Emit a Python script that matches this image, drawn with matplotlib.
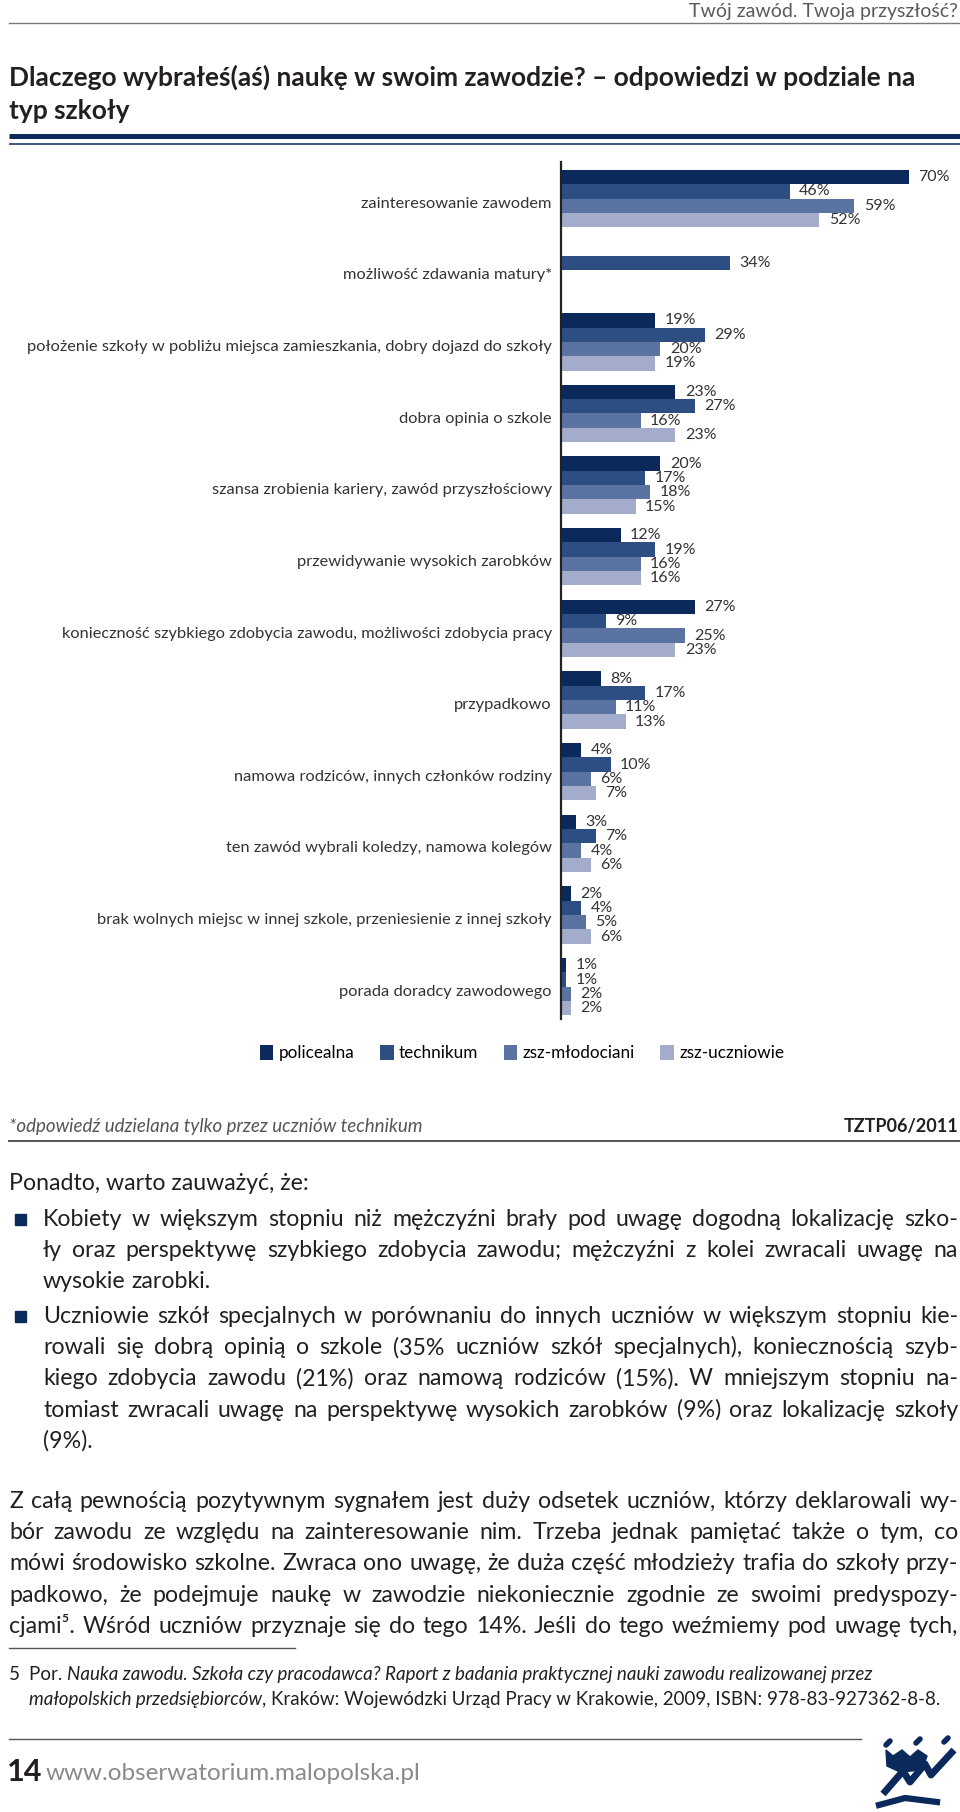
import numpy as np
import matplotlib.pyplot as plt
from matplotlib.patches import Patch, Rectangle

plt.rcParams['font.family'] = ['Lato', 'DejaVu Sans']

categories = [
    "zainteresowanie zawodem",
    "możliwość zdawania matury*",
    "położenie szkoły w pobliżu miejsca zamieszkania, dobry dojazd do szkoły",
    "dobra opinia o szkole",
    "szansa zrobienia kariery, zawód przyszłościowy",
    "przewidywanie wysokich zarobków",
    "konieczność szybkiego zdobycia zawodu, możliwości zdobycia pracy",
    "przypadkowo",
    "namowa rodziców, innych członków rodziny",
    "ten zawód wybrali koledzy, namowa kolegów",
    "brak wolnych miejsc w innej szkole, przeniesienie z innej szkoły",
    "porada doradcy zawodowego",
]
policealna = [70, None, 19, 23, 20, 12, 27, 8, 4, 3, 2, 1]
technikum = [46, 34, 29, 27, 17, 19, 9, 17, 10, 7, 4, 1]
mlodociani = [59, None, 20, 16, 18, 16, 25, 11, 6, 4, 5, 2]
uczniowie = [52, None, 19, 23, 15, 16, 23, 13, 7, 6, 6, 2]
series = [policealna, technikum, mlodociani, uczniowie]
series_names = ["policealna", "technikum", "zsz-młodociani", "zsz-uczniowie"]
colors = ["#0b2a5b", "#2c4e83", "#5b73a1", "#a3adcb"]

bullet1 = [
    "Kobiety w większym stopniu niż mężczyźni brały pod uwagę dogodną lokalizację szko-",
    "ły oraz perspektywę szybkiego zdobycia zawodu; mężczyźni z kolei zwracali uwagę na",
    "wysokie zarobki.",
]
bullet2 = [
    "Uczniowie szkół specjalnych w porównaniu do innych uczniów w większym stopniu kie-",
    "rowali się dobrą opinią o szkole (35% uczniów szkół specjalnych), koniecznością szyb-",
    "kiego zdobycia zawodu (21%) oraz namową rodziców (15%). W mniejszym stopniu na-",
    "tomiast zwracali uwagę na perspektywę wysokich zarobków (9%) oraz lokalizację szkoły",
    "(9%).",
]
paragraph = [
    "Z całą pewnością pozytywnym sygnałem jest duży odsetek uczniów, którzy deklarowali wy-",
    "bór zawodu ze względu na zainteresowanie nim. Trzeba jednak pamiętać także o tym, co",
    "mówi środowisko szkolne. Zwraca ono uwagę, że duża część młodzieży trafia do szkoły przy-",
    "padkowo, że podejmuje naukę w zawodzie niekoniecznie zgodnie ze swoimi predyspozy-",
    "cjami⁵. Wśród uczniów przyznaje się do tego 14%. Jeśli do tego weźmiemy pod uwagę tych,",
]

W, H = 960, 1812
fig = plt.figure(figsize=(9.6, 18.12), dpi=100)
page = fig.add_axes([0, 0, 1, 1])
page.set_xlim(0, W)
page.set_ylim(H, 0)
page.axis('off')
r = fig.canvas.get_renderer()
ink = '#231f20'
navy = '#0b2a5b'


def width(t):
    return t.get_window_extent(r).width


def justify(x0, x1, y, line, last=False, **kw):
    # y is the baseline
    words = line.split(' ')
    texts = [page.text(x0, y, w, va='baseline', ha='left', **kw) for w in words]
    ws = [width(t) for t in texts]
    gap = width(page.text(0, 0, 'a a', alpha=0, **kw)) - width(page.text(0, 0, 'aa', alpha=0, **kw))
    if not last and len(words) > 1:
        gap = (x1 - x0 - sum(ws)) / (len(words) - 1)
    x = x0
    for t, w in zip(texts, ws):
        t.set_x(x)
        x += w + gap


def segments(x, y, parts, **kw):
    for txt, style in parts:
        t = page.text(x, y, txt, va='baseline', ha='left', fontstyle=style, **kw)
        x += width(t)


# header
page.text(958, 17, "Twój zawód. Twoja przyszłość?", ha='right', va='baseline',
          fontsize=14, color='#5a5a5c')
page.plot([9, 960], [23, 23], color='#7a7a7a', lw=1)
page.text(9, 86, "Dlaczego wybrałeś(aś) naukę w swoim zawodzie? – odpowiedzi w podziale na",
          fontsize=19, fontweight='bold', color=ink, va='baseline')
page.text(9, 119, "typ szkoły", fontsize=19, fontweight='bold', color=ink, va='baseline')
page.plot([9, 960], [136, 136], color=navy, lw=3.6, solid_capstyle='butt')
page.plot([9, 960], [143.5, 143.5], color=navy, lw=1.1, solid_capstyle='butt')

# chart
ax = fig.add_axes([561 / W, 1 - 1019 / H, 399 / W, 857 / H])
ax.set_xlim(0, 399 / 4.97)
ax.set_ylim(857 / 14.33, 0)
start = 0.55
for j, (vals, c) in enumerate(zip(series, colors)):
    for i, v in enumerate(vals):
        if v is None:
            continue
        y = start + 5 * i + j + 0.5
        ax.barh(y, v, height=1.0, color=c)
        ax.text(v + 1.9, y, f"{v}%", va='center', ha='left', fontsize=11.5, color='#333333')
ax.set_yticks([start + 5 * i + 2.25 for i in range(len(categories))])
ax.set_yticklabels(categories, fontsize=11.8, color='#333333')
ax.tick_params(axis='y', length=0, pad=6.5)
ax.set_xticks([])
for s in ['top', 'right', 'bottom']:
    ax.spines[s].set_visible(False)
ax.spines['left'].set_linewidth(1.6)
ax.spines['left'].set_color('#222222')
ax.patch.set_alpha(0)

handles = [Patch(facecolor=c, label=n) for c, n in zip(colors, series_names)]
ax.legend(handles=handles, loc='center', bbox_to_anchor=(522 / W, 1 - 1053 / H),
          bbox_transform=fig.transFigure, ncol=4, frameon=False, fontsize=12.3,
          handlelength=0.8, handleheight=1.0, handletextpad=0.3, columnspacing=1.5)

# source line
page.text(9, 1132, "*odpowiedź udzielana tylko przez uczniów technikum", fontsize=13.5,
          fontstyle='italic', color='#555555', va='baseline')
page.text(958, 1132, "TZTP06/2011", fontsize=13, fontweight='bold', color=ink,
          va='baseline', ha='right')
page.plot([9, 960], [1141, 1141], color='#555555', lw=1.4)

# body text
body = dict(fontsize=16.7, color=ink)
page.text(9, 1190, "Ponadto, warto zauważyć, że:", va='baseline', **body)
for lines, y0 in [(bullet1, 1220), (bullet2, 1317)]:
    page.add_patch(Rectangle((15, y0 - 6), 11, 11, color=navy))
    for k, line in enumerate(lines):
        justify(43, 958, y0 + 6 + 31.2 * k, line, last=(k == len(lines) - 1), **body)
for k, line in enumerate(paragraph):
    justify(9, 958, 1508 + 31.2 * k, line, **body)

page.plot([9, 295], [1648, 1648], color='#555555', lw=1)
foot = dict(fontsize=13.5, color=ink)
page.text(9, 1680, "5", va='baseline', **foot)
segments(29, 1680, [("Por. ", 'normal'),
                    ("Nauka zawodu. Szkoła czy pracodawca? Raport z badania praktycznej nauki zawodu realizowanej przez", 'italic')], **foot)
segments(29, 1705, [("małopolskich przedsiębiorców", 'italic'),
                    (", Kraków: Wojewódzki Urząd Pracy w Krakowie, 2009, ISBN: 978-83-927362-8-8.", 'normal')], **foot)

# footer
page.plot([9, 861], [1739, 1739], color='#555555', lw=1)
page.text(7, 1781, "14", fontsize=22, fontweight='bold', color=ink, va='baseline')
page.text(46, 1780, "www.obserwatorium.malopolska.pl", fontsize=17.5, color='#8a8a8a', va='baseline')

# logo
for (x, y) in [(888, 1743), (918, 1741), (946, 1740)]:
    page.plot([x - 2, x + 2], [y + 2, y - 2], color=navy, lw=4, solid_capstyle='round')
page.fill([886, 893, 902, 910, 918, 927, 922, 900, 887],
          [1750, 1756, 1750, 1757, 1750, 1756, 1770, 1772, 1766], color=navy)
page.plot([883, 903, 910, 925, 931, 954], [1794, 1771, 1782, 1764, 1775, 1750],
          color=navy, lw=5, solid_capstyle='butt')
page.plot([879, 905, 937], [1805, 1798, 1802], color=navy, lw=4.5)

fig.savefig('out.png', dpi=100)
